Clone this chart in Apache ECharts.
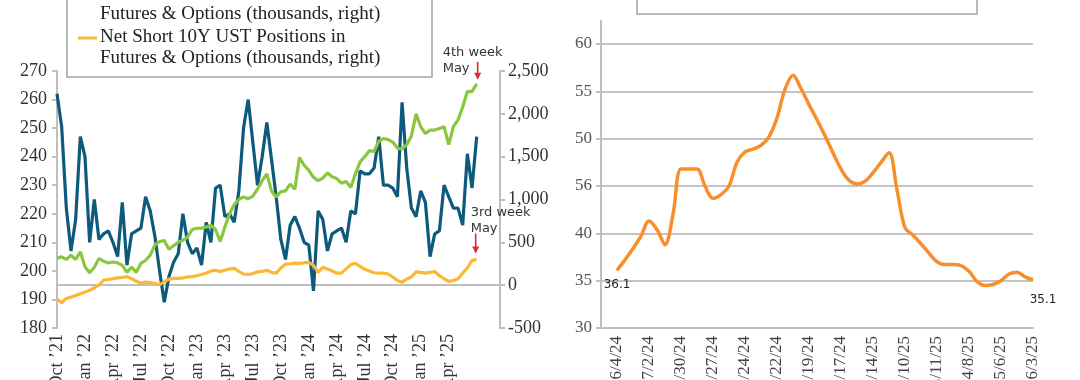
<!DOCTYPE html>
<html><head><meta charset="utf-8">
<script src="https://cdn.jsdelivr.net/npm/echarts/dist/echarts.min.js"></script>
<style>html,body{margin:0;padding:0;background:#fff}#c{width:1080px;height:380px}</style>
</head><body><div id="c"></div>
<script>
// ---------- Left chart data (semi-monthly samples, Oct '21 .. late May '25) ----------
const quarterLabels = ["Oct \u201921","Jan \u201922","Apr \u201922","Jul \u201922","Oct \u201922","Jan \u201923","Apr \u201923","Jul \u201923","Oct \u201923","Jan \u201924","Apr \u201924","Jul \u201924","Oct \u201924","Jan \u201925","Apr \u201925"];
const leftSeriesBlue = [262,250.5,222,207,218,247,240,210,225,211,213,214,210,205,224,202,213,214,215,226,221,212,200,189,198,203,206,220,210,206,208,202,217,210,229,230,219,220,217,228,250,260,245,230,240,252,239,226,211,204,216,219,215,210,209,193,221,218,207,213,214,215,210,221,220,235,234,234,236,247,230,230,229,226,259,236,222,219,228,224,205,213,214,230,226,222,222,216,241,229,247];
const netLongGreen = [314,330,300,350,300,390,216,145,210,310,280,260,270,260,230,150,210,150,256,290,350,470,510,520,420,460,500,525,560,650,664,665,680,700,650,510,680,830,940,1000,1030,1010,1040,1120,1220,1300,1100,1030,1090,1100,1180,1120,1490,1400,1340,1260,1220,1250,1310,1265,1245,1190,1210,1140,1300,1440,1500,1570,1560,1680,1710,1700,1670,1600,1590,1640,1740,2000,1850,1770,1810,1810,1830,1850,1640,1850,1930,2080,2260,2260,2350];
const netShortOrange = [-160,-205,-155,-140,-120,-100,-80,-60,-30,0,60,65,75,85,90,100,75,45,25,35,30,20,5,40,70,80,80,85,95,100,110,125,140,165,175,160,175,190,195,160,130,125,135,155,160,175,150,140,200,245,250,258,255,262,265,230,150,210,190,165,140,140,190,240,255,220,185,165,145,140,140,130,95,55,35,70,95,155,150,140,150,160,110,75,45,55,75,140,200,290,300];
const leftPeriodCount = 96;       // axis slots (data fill the first 91)
const leftLabelEvery = 6;         // one label per quarter

// ---------- Right chart data (weekly) ----------
const weekLabels = ["6/4/24","7/2/24","7/30/24","8/27/24","9/24/24","10/22/24","11/19/24","12/17/24","1/14/25","2/10/25","3/11/25","4/8/25","5/6/25","6/3/25"];
const weeklyValues = [36.1,37.2,38.4,39.7,41.3,40.4,38.8,42.0,46.8,46.8,46.8,45.0,43.7,44.1,45.0,47.5,48.6,48.9,49.3,50.2,52.2,55.2,56.7,55.3,53.6,52.0,50.3,48.5,46.8,45.6,45.2,45.5,46.4,47.5,48.5,44.6,40.6,39.8,38.9,37.9,37.0,36.7,36.7,36.6,36.0,34.9,34.5,34.6,35.0,35.7,35.9,35.4,35.1];
const rightTickLabels = ['30','35','40','56','50','55','60'];
const rightLead = 2;              // empty weeks before first point
const rightLabelEvery = 4;

const leftCats = [];
for (let i = 0; i < leftPeriodCount; i++) leftCats.push('P' + i);
const rightCats = [];
for (let i = 0; i < weeklyValues.length + rightLead; i++) rightCats.push('W' + i);

const serif = 'Liberation Serif';
const sans = 'DejaVu Sans';
const grey = '#bfbfbf';

const lastIdx = weeklyValues.length - 1;
const rightData = [];
for (let i = 0; i < rightLead; i++) rightData.push(null);
weeklyValues.forEach((v, i) => {
  if (i === 0) rightData.push({value: v, label: {show: true, position: 'bottom', distance: 8}});
  else if (i === lastIdx) rightData.push({value: v, label: {show: true, position: 'bottom', distance: 14, offset: [10, 0]}});
  else rightData.push(v);
});

const chart = echarts.init(document.getElementById('c'), null, {renderer: 'canvas'});
const option = {
  animation: false,
  grid: [
    {left: 57, top: 71, width: 443, height: 257, containLabel: false, outerBoundsMode: 'none'},
    {left: 601, top: 44, width: 432, height: 284, containLabel: false, outerBoundsMode: 'none'}
  ],
  xAxis: [
    {type: 'category', gridIndex: 0, data: leftCats, boundaryGap: false,
     axisLine: {lineStyle: {color: grey, width: 2}}, axisTick: {show: false},
     axisLabel: {rotate: 90, interval: leftLabelEvery - 1, margin: 6, fontFamily: serif, fontSize: 18, color: '#333',
       formatter: (v, idx) => quarterLabels[idx / leftLabelEvery] || ''}},
    {type: 'category', gridIndex: 1, data: rightCats, boundaryGap: false,
     axisLine: {lineStyle: {color: grey, width: 2}}, axisTick: {show: false},
     axisLabel: {rotate: 90, interval: (idx) => idx >= rightLead && (idx - rightLead) % rightLabelEvery === 0,
       margin: 8, fontFamily: serif, fontSize: 17, color: '#444',
       formatter: (v, idx) => weekLabels[(idx - rightLead) / rightLabelEvery] || ''}}
  ],
  yAxis: [
    {type: 'value', gridIndex: 0, min: 180, max: 270, interval: 10,
     axisLine: {show: true, lineStyle: {color: grey, width: 2}},
     axisTick: {show: true, length: 5, lineStyle: {color: grey, width: 2}},
     splitLine: {show: false},
     axisLabel: {margin: 10, fontFamily: serif, fontSize: 18, color: '#333'}},
    {type: 'value', gridIndex: 0, position: 'right', min: -500, max: 2500, interval: 500,
     axisLine: {show: true, lineStyle: {color: grey, width: 2}},
     axisTick: {show: true, length: 5, lineStyle: {color: grey, width: 2}},
     splitLine: {show: false},
     axisLabel: {margin: 8, fontFamily: serif, fontSize: 18, color: '#333',
       formatter: v => String(v).replace(/\B(?=(\d{3})+(?!\d))/g, ',')}},
    {type: 'value', gridIndex: 1, min: 30, max: 60, interval: 5,
     axisLine: {show: true, lineStyle: {color: grey, width: 2}},
     axisTick: {show: true, length: 5, lineStyle: {color: grey, width: 2}},
     splitLine: {show: true, lineStyle: {color: '#c4c4c4', width: 2}},
     axisLabel: {margin: 9, fontFamily: serif, fontSize: 17, color: '#555',
       formatter: v => rightTickLabels[(v - 30) / 5] || String(v)}}
  ],
  series: [
    {name: 'Left series', type: 'line', xAxisIndex: 0, yAxisIndex: 0, data: leftSeriesBlue,
     symbol: 'none', lineStyle: {color: '#0d5a7c', width: 3.2}, itemStyle: {color: '#0d5a7c'}, z: 3},
    {name: 'Net Long', type: 'line', xAxisIndex: 0, yAxisIndex: 1, data: netLongGreen,
     symbol: 'none', lineStyle: {color: '#8cc63e', width: 3.2}, itemStyle: {color: '#8cc63e'}, z: 4},
    {name: 'Net Short 10Y UST Positions in Futures & Options (thousands, right)', type: 'line', xAxisIndex: 0, yAxisIndex: 1,
     data: netShortOrange, symbol: 'none', lineStyle: {color: '#fbb735', width: 3.2}, itemStyle: {color: '#fbb735'}, z: 5,
     markLine: {silent: true, symbol: 'none', label: {show: false}, lineStyle: {color: grey, width: 2, type: 'solid'},
       data: [{yAxis: 0}], z: 1}},
    {name: 'Right series', type: 'line', xAxisIndex: 1, yAxisIndex: 2, data: rightData,
     smooth: 0.35, symbol: 'circle', symbolSize: 1, showSymbol: true,
     lineStyle: {color: '#f7902c', width: 3.5}, itemStyle: {color: '#f7902c'},
     label: {show: false, fontFamily: sans, fontSize: 12, color: '#222', formatter: p => Number(p.value).toFixed(1)}}
  ]
};
chart.setOption(option);

// ---------- Overlays: legend boxes and annotations ----------
const gEnd = chart.convertToPixel({xAxisIndex: 0, yAxisIndex: 1}, [netLongGreen.length - 1, netLongGreen[netLongGreen.length - 1]]);
const oEnd = chart.convertToPixel({xAxisIndex: 0, yAxisIndex: 1}, [netShortOrange.length - 1, netShortOrange[netShortOrange.length - 1]]);
const red = '#e8262f';
function arrow(x, y1, y2) {
  return [
    {type: 'line', z: 20, shape: {x1: x, y1: y1, x2: x, y2: y2 - 5}, style: {stroke: red, lineWidth: 1.6}},
    {type: 'polygon', z: 20, shape: {points: [[x - 3.5, y2 - 7], [x + 3.5, y2 - 7], [x, y2]]}, style: {fill: red}}
  ];
}
const annoFont = '13px "' + sans + '"';
const legFont = '19px "' + serif + '"';
const graphics = [
  {type: 'rect', z: 30, shape: {x: 67, y: -60, width: 365, height: 137}, style: {fill: '#fff', stroke: '#a3a3a3', lineWidth: 1.5}},
  {type: 'text', z: 31, style: {x: 100, y: 14, text: 'Futures & Options (thousands, right)', font: legFont, fill: '#222', verticalAlign: 'middle'}},
  {type: 'line', z: 31, shape: {x1: 78, y1: 38, x2: 97, y2: 38}, style: {stroke: '#fbb735', lineWidth: 3}},
  {type: 'text', z: 31, style: {x: 100, y: 37, text: 'Net Short 10Y UST Positions in', font: legFont, fill: '#222', verticalAlign: 'middle'}},
  {type: 'text', z: 31, style: {x: 100, y: 58, text: 'Futures & Options (thousands, right)', font: legFont, fill: '#222', verticalAlign: 'middle'}},
  {type: 'rect', z: 30, shape: {x: 637, y: -60, width: 340, height: 74}, style: {fill: '#fff', stroke: '#a3a3a3', lineWidth: 1.5}},
  {type: 'line', z: 5, shape: {x1: 601, y1: 20, x2: 601, y2: 44}, style: {stroke: grey, lineWidth: 2}},
  {type: 'text', z: 20, style: {x: gEnd[0] - 34, y: gEnd[1] - 31, text: '4th week', font: annoFont, fill: '#333', verticalAlign: 'middle'}},
  {type: 'text', z: 20, style: {x: gEnd[0] - 34, y: gEnd[1] - 15, text: 'May', font: annoFont, fill: '#333', verticalAlign: 'middle'}},
  ...arrow(gEnd[0] + 1, gEnd[1] - 22, gEnd[1] - 4),
  {type: 'text', z: 20, style: {x: oEnd[0] - 6, y: oEnd[1] - 47, text: '3rd week', font: annoFont, fill: '#333', verticalAlign: 'middle'}},
  {type: 'text', z: 20, style: {x: oEnd[0] - 6, y: oEnd[1] - 31, text: 'May', font: annoFont, fill: '#333', verticalAlign: 'middle'}},
  ...arrow(oEnd[0] - 1, oEnd[1] - 26, oEnd[1] - 6)
];
chart.setOption({graphic: graphics});
</script></body></html>
